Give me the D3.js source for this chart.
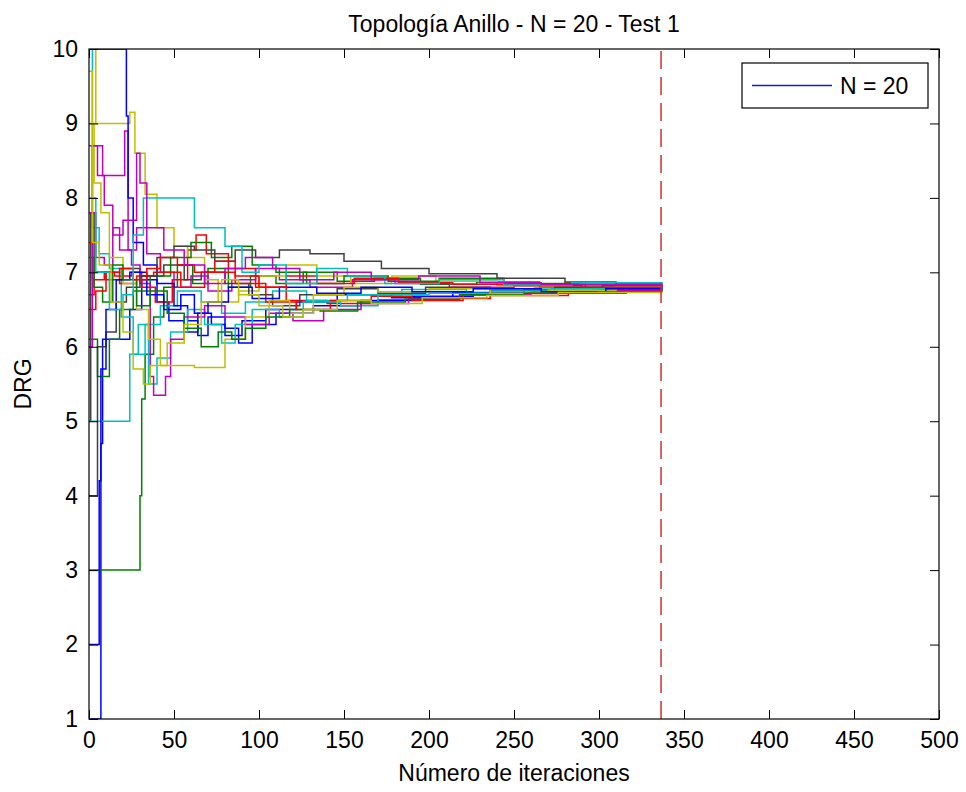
<!DOCTYPE html>
<html>
<head>
<meta charset="utf-8">
<script src="https://cdn.jsdelivr.net/npm/d3@7"></script>
<style>
    body { margin: 0; background: #fff; }
    text { font-family: "Liberation Sans", Arial, sans-serif; }
</style>
</head>
<body>
<svg id="chart" width="966" height="792"></svg>
<script>
'use strict';

var chartTitle = 'Topología Anillo - N = 20 - Test 1',
    xTitle = 'Número de iteraciones',
    yTitle = 'DRG',
    legendLabel = 'N = 20',
    convergenceIter = 336.5;

var xTicks = [0, 50, 100, 150, 200, 250, 300, 350, 400, 450, 500],
    yTicks = [1, 2, 3, 4, 5, 6, 7, 8, 9, 10];

// old matlab color order, cycled over the runs
var lineColors = ['#0000ff', '#008000', '#ff0000', '#00bfbf', '#bf00bf', '#bfbf00', '#404040'];

// [iteration, DRG] at each step change
var run01 = [[0,1],[7,4.7],[8,6.1],[19,6.1],[24,6.5],[31,6.9],[40,6.6],[47,6.35],[56,6.2],[64,6.45],[72,6.3],[80,6.15],[90,6.35],[104,6.5],[122,6.6],[146,6.7],[178,6.66],[214,6.73],[256,6.76],[300,6.78],[337,6.78]];
var run02 = [[0,3],[30,4.0],[31,5.3],[33,5.9],[38,6.4],[44,6.8],[52,7.1],[61,6.85],[70,7.05],[82,6.8],[95,6.95],[110,6.85],[126,7.0],[146,6.88],[168,6.92],[195,6.84],[228,6.87],[265,6.8],[302,6.82],[337,6.8]];
var run03 = [[0,6.7],[3,7.0],[15,6.95],[25,7.0],[31,6.8],[39,6.6],[49,6.9],[58,7.3],[63,7.5],[69,7.25],[82,7.05],[98,6.8],[116,6.62],[140,6.58],[170,6.63],[197,6.65],[236,6.69],[282,6.72],[316,6.76],[337,6.77]];
var run04 = [[0,10],[2,7.6],[6,7.25],[12,7.05],[19,6.4],[26,5.9],[33,6.3],[42,6.55],[52,6.75],[66,6.6],[78,6.45],[92,6.6],[108,6.75],[128,6.62],[152,6.7],[184,6.77],[222,6.72],[262,6.79],[300,6.77],[337,6.79]];
var run05 = [[0,8.7],[8,8.3],[21,8.9],[23,7.3],[28,7.6],[34,7.25],[42,7.0],[50,6.8],[60,6.95],[70,6.75],[84,6.9],[98,7.05],[112,6.9],[130,6.8],[155,6.9],[180,6.85],[212,6.8],[250,6.84],[292,6.79],[337,6.79]];
var run06 = [[0,10],[4,9.0],[24,9.15],[27,8.6],[33,8.05],[40,7.6],[50,7.35],[58,7.2],[68,6.9],[76,6.6],[88,6.75],[100,6.95],[116,7.1],[134,6.95],[154,6.85],[178,6.95],[204,6.88],[240,6.82],[280,6.86],[337,6.83]];
var run07 = [[0,5],[1,7.8],[3,7.0],[10,6.9],[20,7.05],[30,6.95],[44,7.1],[56,6.9],[66,7.0],[80,6.85],[94,6.7],[108,6.55],[124,6.7],[146,6.78],[170,6.72],[198,6.8],[236,6.76],[274,6.8],[337,6.79]];
var run08 = [[0,10],[22,9.1],[23,8.0],[26,7.4],[32,7.1],[40,6.85],[50,6.55],[58,6.35],[64,6.15],[70,6.4],[80,6.25],[88,6.05],[96,6.3],[110,6.45],[132,6.55],[160,6.62],[190,6.68],[226,6.72],[270,6.74],[310,6.77],[337,6.77]];
var run09 = [[0,6.1],[5,5.6],[12,6.1],[18,6.5],[26,6.75],[36,6.95],[48,7.2],[60,7.4],[72,7.2],[84,7.35],[96,7.1],[110,7.0],[128,6.85],[150,6.95],[176,6.88],[206,6.92],[244,6.85],[288,6.83],[337,6.81]];
var run10 = [[0,7.4],[2,6.9],[9,7.0],[18,6.85],[28,6.95],[38,7.0],[54,6.8],[68,7.0],[86,6.85],[104,6.6],[122,6.5],[142,6.62],[166,6.68],[190,6.62],[220,6.7],[258,6.73],[296,6.76],[337,6.76]];
var run11 = [[0,5],[24,5.9],[29,6.3],[35,5.5],[40,5.85],[48,6.2],[58,6.5],[68,6.3],[78,6.05],[86,6.3],[96,6.5],[112,6.4],[126,6.6],[148,6.55],[170,6.7],[200,6.72],[236,6.75],[272,6.78],[337,6.78]];
var run12 = [[0,7.8],[4,7.2],[9,7.1],[14,7.6],[18,7.3],[25,7.1],[30,6.85],[36,5.6],[38,5.35],[45,5.6],[48,6.1],[56,6.4],[68,6.55],[80,6.4],[92,6.3],[106,6.45],[120,6.35],[138,6.5],[160,6.58],[188,6.65],[218,6.7],[260,6.73],[300,6.75],[337,6.77]];
var run13 = [[0,9],[3,8.2],[7,7.8],[12,7.2],[20,6.85],[28,6.5],[35,6.1],[42,5.75],[62,5.72],[80,6.1],[92,6.4],[106,6.62],[118,6.45],[132,6.7],[150,6.8],[170,6.74],[200,6.78],[236,6.72],[270,6.76],[310,6.8],[337,6.8]];
var run14 = [[0,4],[5,6.0],[10,6.2],[16,6.6],[22,6.8],[30,6.95],[40,7.2],[50,7.35],[62,7.3],[74,7.15],[86,7.3],[98,7.2],[112,7.3],[130,7.25],[150,7.15],[172,7.05],[200,6.98],[240,6.92],[280,6.87],[310,6.84],[337,6.83]];
var run15 = [[0,2],[6,4.2],[7,5.7],[10,6.5],[16,6.9],[24,7.0],[34,6.7],[44,6.5],[54,6.7],[62,6.45],[70,6.6],[82,6.8],[96,6.65],[112,6.8],[134,6.72],[160,6.8],[190,6.74],[226,6.78],[266,6.74],[304,6.78],[337,6.77]];
var run16 = [[0,7.2],[3,6.8],[8,6.6],[14,7.1],[20,6.9],[28,6.55],[36,6.75],[46,6.45],[56,6.25],[66,6.0],[76,6.2],[84,6.1],[92,6.25],[104,6.4],[118,6.5],[136,6.48],[158,6.6],[186,6.64],[218,6.7],[256,6.72],[300,6.74],[337,6.76]];
var run17 = [[0,6.5],[4,6.75],[10,7.0],[18,7.05],[26,6.9],[34,7.05],[42,7.2],[52,7.1],[62,7.0],[74,7.15],[86,6.95],[100,6.8],[116,6.95],[134,6.85],[156,6.92],[182,6.86],[214,6.84],[250,6.82],[290,6.8],[337,6.79]];
var run18 = [[0,8],[4,7.0],[12,6.5],[20,6.7],[26,7.5],[32,8.0],[62,7.6],[80,7.35],[90,7.0],[100,7.1],[116,6.85],[134,7.05],[152,6.95],[174,6.85],[206,6.9],[244,6.83],[284,6.86],[337,6.82]];
var run19 = [[0,6],[2,8.7],[5,8.3],[9,7.9],[14,7.5],[20,7.7],[28,8.6],[30,8.2],[34,7.6],[44,7.3],[56,7.1],[68,6.85],[80,7.05],[92,7.2],[108,7.05],[124,6.9],[144,7.0],[166,6.9],[194,6.95],[230,6.86],[266,6.84],[337,6.8]];
var run20 = [[0,9.7],[2,7.4],[6,7.1],[13,6.6],[20,6.2],[26,5.7],[32,5.5],[36,5.75],[46,6.05],[56,6.3],[66,6.6],[78,6.9],[88,6.7],[100,6.55],[114,6.4],[126,6.5],[146,6.62],[166,6.58],[196,6.66],[234,6.69],[276,6.73],[337,6.75]];

var runs = [run01, run02, run03, run04, run05, run06, run07, run08, run09, run10,
            run11, run12, run13, run14, run15, run16, run17, run18, run19, run20];

var margin = { left: 89, right: 939, top: 49, bottom: 719 },
    fontSize = 23;

var svg = d3.select('#chart');

svg.append('rect')
    .attr('width', 966)
    .attr('height', 792)
    .attr('fill', '#fff');

var x = d3.scaleLinear().domain([0, 500]).range([margin.left, margin.right]),
    y = d3.scaleLinear().domain([1, 10]).range([margin.bottom, margin.top]);

svg.append('clipPath')
    .attr('id', 'plot_clip')
    .append('rect')
    .attr('x', margin.left)
    .attr('y', margin.top)
    .attr('width', margin.right - margin.left)
    .attr('height', margin.bottom - margin.top);

var stepLine = d3.line()
    .x(function(d) { return x(d[0]); })
    .y(function(d) { return y(d[1]); })
    .curve(d3.curveStepAfter);

var plot = svg.append('g').attr('clip-path', 'url(#plot_clip)');

runs.forEach(function(run, i) {
    plot.append('path')
        .attr('d', stepLine(run))
        .attr('fill', 'none')
        .attr('stroke', lineColors[i % lineColors.length])
        .attr('stroke-width', 1.5);
});

// iteration where every node has converged
svg.append('line')
    .attr('x1', x(convergenceIter))
    .attr('x2', x(convergenceIter))
    .attr('y1', y(1))
    .attr('y2', y(10))
    .attr('stroke', '#d03030')
    .attr('stroke-width', 1.5)
    .attr('stroke-dasharray', '18,8');

// axes, ticks pointing inwards like matlab
function styleAxis(g) {
    g.select('.domain').remove();
    g.selectAll('.tick line').attr('stroke', '#000');
    g.selectAll('text')
        .attr('fill', '#000')
        .style('font-family', '"Liberation Sans", Arial, sans-serif')
        .style('font-size', fontSize + 'px');
}

svg.append('g')
    .attr('transform', 'translate(0,' + margin.bottom + ')')
    .call(d3.axisBottom(x).tickValues(xTicks).tickSizeInner(-9).tickSizeOuter(0).tickPadding(13))
    .call(styleAxis);

svg.append('g')
    .attr('transform', 'translate(0,' + margin.top + ')')
    .call(d3.axisTop(x).tickValues(xTicks).tickSizeInner(-9).tickSizeOuter(0).tickFormat(''))
    .call(styleAxis);

svg.append('g')
    .attr('transform', 'translate(' + margin.left + ',0)')
    .call(d3.axisLeft(y).tickValues(yTicks).tickSizeInner(-9).tickSizeOuter(0).tickPadding(11))
    .call(styleAxis);

svg.append('g')
    .attr('transform', 'translate(' + margin.right + ',0)')
    .call(d3.axisRight(y).tickValues(yTicks).tickSizeInner(-9).tickSizeOuter(0).tickFormat(''))
    .call(styleAxis);

svg.append('rect')
    .attr('x', margin.left)
    .attr('y', margin.top)
    .attr('width', margin.right - margin.left)
    .attr('height', margin.bottom - margin.top)
    .attr('fill', 'none')
    .attr('stroke', '#000')
    .attr('stroke-width', 1.2);

// titles
svg.append('text')
    .attr('x', (margin.left + margin.right) / 2)
    .attr('y', 32)
    .attr('text-anchor', 'middle')
    .style('font-size', fontSize + 'px')
    .text(chartTitle);

svg.append('text')
    .attr('x', (margin.left + margin.right) / 2)
    .attr('y', 781)
    .attr('text-anchor', 'middle')
    .style('font-size', fontSize + 'px')
    .text(xTitle);

svg.append('text')
    .attr('transform', 'translate(31,' + (margin.top + margin.bottom) / 2 + ') rotate(-90)')
    .attr('text-anchor', 'middle')
    .style('font-size', fontSize + 'px')
    .text(yTitle);

// legend
var legend = svg.append('g');

legend.append('rect')
    .attr('x', 742)
    .attr('y', 63)
    .attr('width', 186)
    .attr('height', 45)
    .attr('fill', '#fff')
    .attr('stroke', '#000')
    .attr('stroke-width', 1.2);

legend.append('line')
    .attr('x1', 752)
    .attr('x2', 832)
    .attr('y1', 85.5)
    .attr('y2', 85.5)
    .attr('stroke', '#1a1ad0')
    .attr('stroke-width', 1.5);

legend.append('text')
    .attr('x', 840)
    .attr('y', 93.5)
    .style('font-size', fontSize + 'px')
    .text(legendLabel);
</script>
</body>
</html>
